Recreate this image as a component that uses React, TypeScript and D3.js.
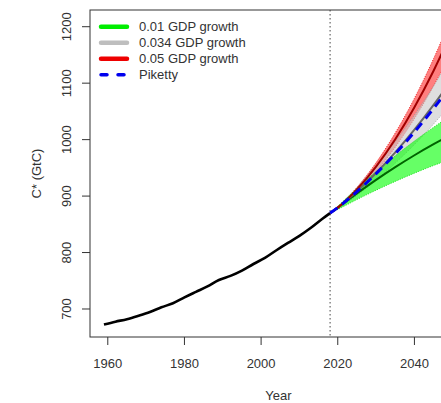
import * as d3 from "d3";

// historical C* (GtC), smoothed, every 3 years 1959-2018
const histYears = [1959, 1962, 1965, 1968, 1971, 1974, 1977, 1980, 1983, 1986, 1989, 1992, 1995, 1998, 2001, 2004, 2007, 2010, 2013, 2016, 2018];
const histValues = [
  672.4, 677.5, 682.0, 688.0, 694.7, 703.0, 710.2, 720.5, 730.3, 740.0, 751.4,
  758.6, 768.0, 779.7, 790.5, 804.1, 817.1, 829.6, 843.9, 859.8, 869.8,
];

// projections
const projYears = [2018, 2020, 2025, 2030, 2035, 2040, 2045, 2050];
const lowMid = [869.8, 879.5, 904.8, 928.7, 951.2, 972.3, 991.9, 1010.1];
const lowUpper = [869.8, 882.1, 913.6, 943.4, 971.4, 997.6, 1022.0, 1044.7];
const lowLower = [869.8, 876.3, 893.8, 910.4, 926.0, 940.6, 954.2, 966.8];
const midMid = [869.8, 879.5, 908.4, 941.0, 977.4, 1017.5, 1061.4, 1109.0];
const midUpper = [869.8, 881.4, 915.3, 953.6, 996.4, 1043.5, 1095.1, 1151.0];
const midLower = [869.8, 877.7, 901.5, 928.4, 958.4, 991.5, 1027.7, 1067.0];
const highMid = [869.8, 879.6, 911.8, 952.2, 1000.7, 1057.3, 1122.0, 1194.8];
const highUpper = [869.8, 880.5, 915.5, 959.3, 1012.0, 1073.4, 1143.6, 1222.6];
const highLower = [869.8, 878.5, 907.2, 943.3, 986.6, 1037.2, 1095.0, 1160.0];
const piketty = [869.8, 879.5, 908.0, 939.8, 975.0, 1013.5, 1055.3, 1100.5];

const xTicks = [1960, 1980, 2000, 2020, 2040];
const yTicks = [700, 800, 900, 1000, 1100, 1200];
const legendLabels = ["0.01 GDP growth", "0.034 GDP growth", "0.05 GDP growth", "Piketty"];
const presentYear = 2018;

const W = 441;
const H = 403;
const left = 90;
const top = 10;
const bottom = 337;
const font = "'Liberation Sans', Arial, Helvetica, sans-serif";
const textColor = "#333";

export default function App() {
  const xPad = 0.04 * (2050 - 1959);
  const x = d3.scaleLinear().domain([1959 - xPad, 2050 + xPad]).range([left, left + (2050 - 1959 + 2 * xPad) * 3.833]);
  const y = d3.scaleLinear().domain([650.4, 1229.6]).range([bottom, top]);
  const right = x.range()[1];

  const line = d3
    .line<[number, number]>()
    .x((d) => x(d[0]))
    .y((d) => y(d[1]))
    .curve(d3.curveMonotoneX);
  const area = d3
    .area<[number, number, number]>()
    .x((d) => x(d[0]))
    .y0((d) => y(d[1]))
    .y1((d) => y(d[2]))
    .curve(d3.curveMonotoneX);

  const zip = (vals: number[]) => projYears.map((yr, i) => [yr, vals[i]] as [number, number]);
  const band = (lo: number[], hi: number[]) =>
    projYears.map((yr, i) => [yr, lo[i], hi[i]] as [number, number, number]);

  const bands = [
    { lo: highLower, hi: highUpper, fill: "rgba(255,0,0,0.5)", edge: "rgba(230,0,0,0.8)" },
    { lo: midLower, hi: midUpper, fill: "rgba(200,200,200,0.6)", edge: "rgba(150,150,150,0.8)" },
    { lo: lowLower, hi: lowUpper, fill: "rgba(0,255,0,0.6)", edge: "rgba(0,210,0,0.8)" },
  ];

  const legendColors = ["#00ee00", "#bebebe", "#ee0000", "#0000ee"];

  return (
    <svg width={W} height={H} style={{ position: "absolute", left: 0, top: 0, background: "#fff" }}>
      <defs>
        <clipPath id="plot">
          <rect x={left} y={top} width={right - left} height={bottom - top} />
        </clipPath>
      </defs>

      {/* present-day marker */}
      <line x1={x(presentYear)} x2={x(presentYear)} y1={top} y2={bottom} stroke="#666" strokeWidth={1.2} strokeDasharray="1.5,2.5" />

      <g clipPath="url(#plot)">
        <path d={line(histYears.map((yr, i) => [yr, histValues[i]]))!} fill="none" stroke="#000" strokeWidth={2.6} />

        {bands.map((b, i) => {
          const d = band(b.lo, b.hi);
          return (
            <g key={i}>
              <path d={area(d)!} fill={b.fill} stroke="none" />
              <path d={line(zip(b.lo))!} fill="none" stroke={b.edge} strokeWidth={1} strokeDasharray="1,1.5" />
              <path d={line(zip(b.hi))!} fill="none" stroke={b.edge} strokeWidth={1} strokeDasharray="1,1.5" />
            </g>
          );
        })}

        <path d={line(zip(lowMid))!} fill="none" stroke="#006400" strokeWidth={2} />
        <path d={line(zip(midMid))!} fill="none" stroke="#666" strokeWidth={2} />
        <path d={line(zip(highMid))!} fill="none" stroke="#a00000" strokeWidth={2} />
        <path d={line(zip(piketty))!} fill="none" stroke="#0000ee" strokeWidth={3} strokeDasharray="9,6" />
      </g>

      {/* frame */}
      <rect x={left} y={top} width={right - left} height={bottom - top} fill="none" stroke="#333" strokeWidth={1} />

      {/* axes */}
      {xTicks.map((t) => (
        <g key={t}>
          <line x1={x(t)} x2={x(t)} y1={bottom} y2={bottom + 8} stroke="#333" />
          <text x={x(t)} y={367.5} textAnchor="middle" fontFamily={font} fontSize={13} fill={textColor}>
            {t}
          </text>
        </g>
      ))}
      {yTicks.map((t) => (
        <g key={t}>
          <line x1={left - 8} x2={left} y1={y(t)} y2={y(t)} stroke="#333" />
          <text
            x={71.3}
            y={y(t)}
            transform={`rotate(-90, 71.3, ${y(t)})`}
            textAnchor="middle"
            fontFamily={font}
            fontSize={13}
            fill={textColor}
          >
            {t}
          </text>
        </g>
      ))}
      <text x={(left + right) / 2} y={399.5} textAnchor="middle" fontFamily={font} fontSize={13} fill={textColor}>
        Year
      </text>
      <text
        x={40.5}
        y={(top + bottom) / 2}
        transform={`rotate(-90, 40.5, ${(top + bottom) / 2})`}
        textAnchor="middle"
        fontFamily={font}
        fontSize={13}
        fill={textColor}
      >
        C* (GtC)
      </text>

      {/* legend */}
      {legendLabels.map((label, i) => {
        const ly = 26.7 + i * 16;
        return (
          <g key={label}>
            <line
              x1={101}
              x2={127}
              y1={ly}
              y2={ly}
              stroke={legendColors[i]}
              strokeWidth={i === 3 ? 3.5 : 4.5}
              strokeLinecap="round"
              strokeDasharray={i === 3 ? "6,11" : undefined}
            />
            <text x={139} y={ly + 4.6} fontFamily={font} fontSize={13} fill={textColor}>
              {label}
            </text>
          </g>
        );
      })}
    </svg>
  );
}
